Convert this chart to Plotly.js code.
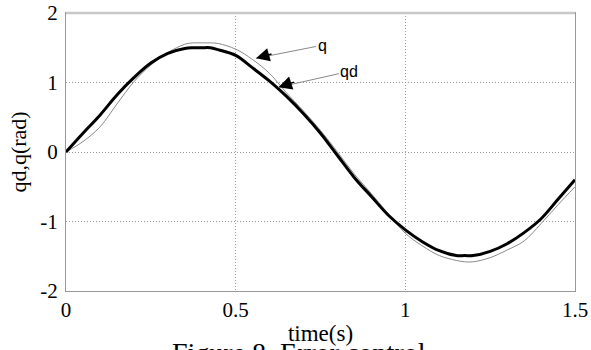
<!DOCTYPE html>
<html>
<head>
<meta charset="utf-8">
<script src="https://cdn.plot.ly/plotly-3.0.1.min.js"></script>
<style>html,body{margin:0;padding:0;background:#fff;}#chart{width:591px;height:350px;}</style>
</head>
<body>
<div id="chart"></div>
<script>
// time axis samples (s)
const timeS = [0, 0.05, 0.10, 0.15, 0.20, 0.25, 0.30, 0.35, 0.375, 0.40, 0.425, 0.45, 0.50, 0.55, 0.60, 0.65, 0.70, 0.75, 0.80, 0.85, 0.90, 0.95, 1.00, 1.05, 1.10, 1.15, 1.175, 1.20, 1.25, 1.30, 1.35, 1.40, 1.45, 1.50];
// desired trajectory qd (thick black)
const qdValues = [0, 0.27, 0.53, 0.82, 1.07, 1.28, 1.42, 1.49, 1.50, 1.50, 1.50, 1.47, 1.39, 1.21, 1.02, 0.80, 0.55, 0.27, -0.05, -0.37, -0.64, -0.91, -1.12, -1.29, -1.42, -1.49, -1.49, -1.49, -1.43, -1.32, -1.16, -0.96, -0.68, -0.40];
// actual trajectory q (thin grey)
const qValues = [0, 0.15, 0.36, 0.69, 1.01, 1.25, 1.43, 1.55, 1.57, 1.57, 1.57, 1.56, 1.48, 1.33, 1.13, 0.85, 0.59, 0.31, 0.00, -0.32, -0.60, -0.89, -1.17, -1.35, -1.49, -1.56, -1.58, -1.58, -1.52, -1.41, -1.28, -1.03, -0.76, -0.50];

const xTickVals = [0, 0.5, 1, 1.5];
const xTickText = ['0', '0.5', '1', '1.5'];
const yTickVals = [-2, -1, 0, 1, 2];
const yTickText = ['-2', '-1', '0', '1', '2'];

const serif = 'Liberation Serif, Times New Roman, serif';
const sans = 'Liberation Sans, Arial, sans-serif';

const traces = [
  {x: timeS, y: qValues, mode: 'lines', line: {color: '#8a8a8a', width: 1, shape: 'spline'}, hoverinfo: 'skip', name: 'q'},
  {x: timeS, y: qdValues, mode: 'lines', line: {color: '#000', width: 3, shape: 'spline'}, hoverinfo: 'skip', name: 'qd'}
];

const layout = {
  width: 591, height: 350,
  margin: {l: 66, r: 16, t: 13, b: 59},
  paper_bgcolor: '#fff', plot_bgcolor: '#fff',
  showlegend: false,
  font: {family: serif, size: 21, color: '#000'},
  xaxis: {
    range: [0, 1.5], tickvals: xTickVals, ticktext: xTickText,
    showgrid: true, gridcolor: '#9a9a9a', griddash: '1px,2px', gridwidth: 1,
    zeroline: false, showline: true, linecolor: '#999', linewidth: 1, mirror: true,
    ticks: '', tickfont: {family: serif, size: 21},
    title: {text: 'time(s)', font: {family: serif, size: 23}, standoff: 3},
    automargin: false
  },
  yaxis: {
    range: [-2, 2], tickvals: yTickVals, ticktext: yTickText,
    showgrid: true, gridcolor: '#9a9a9a', griddash: '1px,2px', gridwidth: 1,
    zeroline: false, showline: true, linecolor: '#999', linewidth: 1, mirror: true,
    ticks: '', ticklabelstandoff: 3, tickfont: {family: serif, size: 21},
    title: {text: 'qd,q(rad)', font: {family: serif, size: 22}, standoff: 7},
    automargin: false
  },
  shapes: [
    {type: 'line', xref: 'paper', yref: 'paper', x0: 0, x1: 1, y0: 1, y1: 1, line: {color: '#c8c8c8', width: 2.5}, layer: 'above'}
  ],
  annotations: [
    {x: 0.560, y: 1.348, xref: 'x', yref: 'y', text: 'q', showarrow: true, arrowhead: 0, arrowcolor: '#888', arrowwidth: 1, ax: 66, ay: -13, font: {family: sans, size: 16, color: '#000'}},
    {x: 0.560, y: 1.348, xref: 'x', yref: 'y', text: '', showarrow: true, arrowhead: 2, arrowsize: 1.8, arrowwidth: 1.5, arrowcolor: '#000', ax: 17, ay: -4.8},
    {x: 0.626, y: 0.931, xref: 'x', yref: 'y', text: 'qd', showarrow: true, arrowhead: 0, arrowcolor: '#888', arrowwidth: 1, ax: 71, ay: -16, font: {family: sans, size: 16, color: '#000'}},
    {x: 0.626, y: 0.931, xref: 'x', yref: 'y', text: '', showarrow: true, arrowhead: 2, arrowsize: 1.8, arrowwidth: 1.5, arrowcolor: '#000', ax: 17, ay: -5.7},
    {x: 0.457, y: -0.222, xref: 'paper', yref: 'paper', xanchor: 'center', yanchor: 'middle', text: 'Figure 8. Error control', showarrow: false, font: {family: serif, size: 28, color: '#000'}}
  ]
};

Plotly.newPlot('chart', traces, layout, {staticPlot: true, displayModeBar: false});
</script>
</body>
</html>
